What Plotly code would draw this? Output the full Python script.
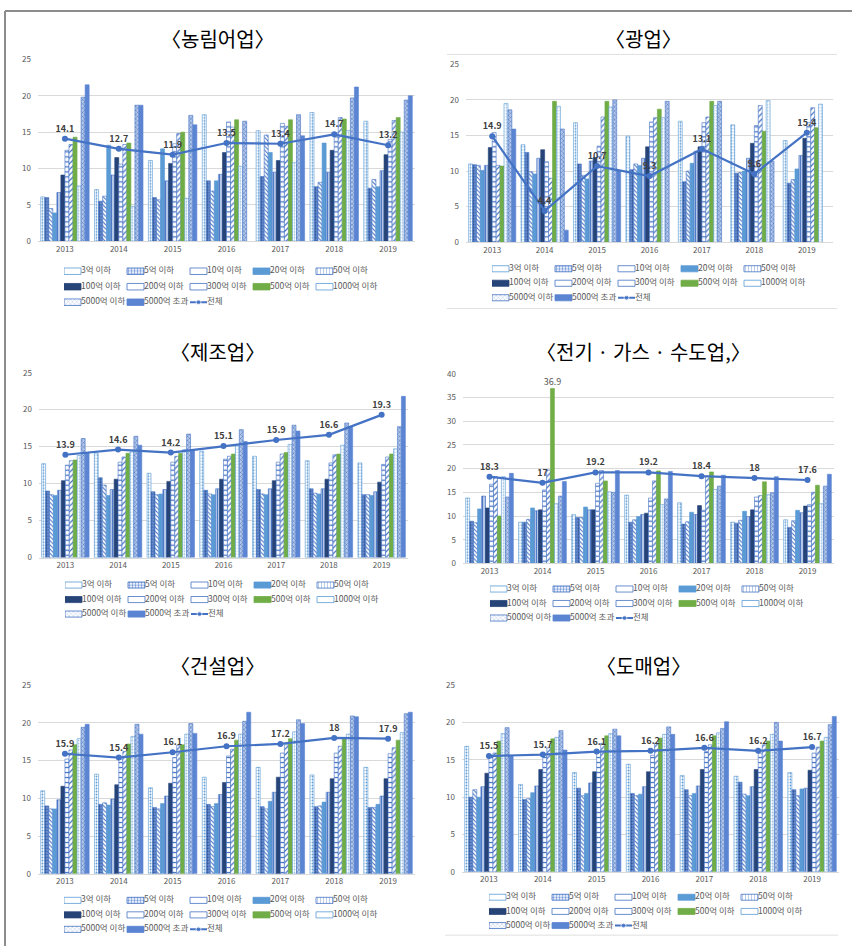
import plotly.graph_objects as go

W, H = 852, 951
FONT = "Noto Sans CJK KR"

years = ["2013", "2014", "2015", "2016", "2017", "2018", "2019"]
series_names = ["3억 이하", "5억 이하", "10억 이하", "20억 이하", "50억 이하", "100억 이하",
                "200억 이하", "300억 이하", "500억 이하", "1000억 이하", "5000억 이하", "5000억 초과"]
total_name = "전체"

# ---- data: one row per year (12 size classes), plus the overall line ----
agri_rows = [
    [6.1, 6.0, 4.5, 3.9, 6.7, 9.1, 12.5, 13.3, 14.3, 7.6, 19.8, 21.5],
    [7.1, 5.5, 6.2, 13.2, 9.1, 11.5, 10.6, 13.3, 13.5, 4.8, 18.7, 18.7],
    [11.1, 6.0, 5.7, 12.7, 8.3, 10.7, 13.4, 14.8, 15.0, 5.9, 17.3, 16.0],
    [17.4, 8.3, 6.9, 8.3, 9.2, 12.2, 16.4, 15.7, 16.7, 10.3, 16.5, None],
    [15.2, 8.9, 14.6, 12.2, 9.5, 11.1, 16.2, 15.8, 16.7, 10.8, 17.4, 14.5],
    [17.7, 7.5, 8.1, 13.5, 9.5, 12.5, 14.9, 17.0, 16.8, 15.2, 19.7, 21.2],
    [16.5, 7.3, 8.5, 7.5, 9.7, 11.9, 14.0, 16.6, 17.0, 15.0, 19.4, 20.0],
]
agri_total = [14.1, 12.7, 11.9, 13.5, 13.4, 14.7, 13.2]

mining_rows = [
    [11.0, 10.9, 10.8, 10.1, 10.8, 13.3, 15.4, 10.8, 10.7, 19.5, 18.6, 15.9],
    [13.7, 12.6, 9.9, 9.6, 11.8, 13.0, 11.3, 9.0, 19.8, 19.1, 15.9, 1.7],
    [16.8, 11.0, 9.4, 8.9, 11.4, 11.9, 13.5, 17.6, 19.8, 19.0, 20.0, 10.0],
    [14.9, 10.2, 11.0, 10.8, 11.8, 13.4, 16.9, 17.5, 18.7, 17.5, 19.8, None],
    [17.0, 8.5, 10.0, 11.1, 12.8, 13.4, 16.8, 17.6, 19.8, 19.2, 19.8, None],
    [16.5, 9.7, 9.8, 10.0, 11.8, 13.9, 16.4, 19.2, 15.6, 19.9, 11.4, None],
    [14.3, 8.3, 8.8, 10.3, 12.2, 14.6, 16.8, 18.9, 16.1, 19.4, None, None],
]
mining_total = [14.9, 4.4, 10.7, 9.3, 13.1, 9.6, 15.4]

manuf_rows = [
    [12.7, 9.0, 8.5, 8.4, 9.1, 10.4, 12.5, 13.1, 13.2, 13.8, 16.1, 14.2],
    [14.1, 10.8, 9.8, 8.4, 9.2, 10.6, 12.9, 13.6, 14.1, 14.3, 16.4, 15.2],
    [11.4, 8.9, 8.5, 8.6, 9.2, 10.3, 12.9, 13.7, 14.1, 14.6, 16.7, 14.6],
    [14.4, 9.1, 8.6, 8.5, 9.3, 10.6, 13.3, 13.7, 14.0, 15.1, 17.3, 15.7],
    [13.7, 9.2, 8.6, 8.5, 9.3, 10.4, 12.9, 14.0, 14.2, 15.3, 17.9, 17.1],
    [13.1, 9.3, 8.7, 8.6, 9.3, 10.6, 12.8, 13.9, 14.0, 15.2, 18.2, 17.7],
    [12.8, 8.5, 8.5, 8.4, 8.9, 10.2, 12.6, 13.6, 14.0, 14.7, 17.7, 21.8],
]
manuf_total = [13.9, 14.6, 14.2, 15.1, 15.9, 16.6, 19.3]

util_rows = [
    [13.8, 8.9, 8.6, 11.5, 14.2, 11.7, 16.7, 18.3, 10.0, 18.3, 14.0, 19.0],
    [8.7, 8.7, 9.3, 11.7, 11.1, 11.3, 15.5, 19.7, 36.9, 12.6, 14.2, 17.3],
    [10.3, 9.7, 9.7, 11.9, 11.3, 11.3, 16.9, 19.6, 17.4, 15.1, 15.0, 19.6],
    [14.4, 8.7, 9.2, 9.9, 10.3, 10.6, 13.8, 17.4, 19.5, 12.4, 13.6, 19.4],
    [12.8, 8.3, 8.8, 10.8, 10.3, 12.2, 11.2, 18.4, 19.3, 15.6, 16.3, 18.6],
    [8.7, 8.5, 9.1, 11.0, 9.9, 11.3, 14.0, 14.3, 17.2, 14.5, 14.9, 18.3],
    [9.2, 7.6, 9.0, 11.2, 10.7, 12.1, 12.4, 15.0, 16.5, 12.6, 16.3, 18.8],
]
util_total = [18.3, 17, 19.2, 19.2, 18.4, 18, 17.6]
util_labelled_bar = (8, 1)  # (series, year) carrying a data label

constr_rows = [
    [11.0, 9.0, 8.6, 8.6, 9.8, 11.6, 15.2, 16.4, 17.1, 17.9, 19.4, 19.8],
    [13.2, 9.2, 9.4, 9.1, 9.9, 11.8, 15.2, 16.2, 17.2, 18.2, 19.8, 18.5],
    [11.4, 8.8, 8.6, 9.3, 10.3, 12.0, 15.4, 17.0, 17.1, 18.5, 19.9, 18.6],
    [12.8, 9.2, 8.9, 9.3, 10.5, 12.1, 15.6, 16.5, 17.7, 18.5, 20.2, 21.4],
    [14.1, 8.9, 8.6, 9.6, 10.8, 12.8, 16.0, 17.1, 17.9, 18.8, 20.4, 19.9],
    [13.1, 8.9, 9.0, 9.5, 10.8, 12.6, 16.0, 16.9, 18.0, 18.5, 20.9, 20.8],
    [14.1, 8.8, 8.8, 9.2, 10.3, 12.6, 15.9, 16.7, 17.7, 18.7, 21.2, 21.4],
]
constr_total = [15.9, 15.4, 16.1, 16.9, 17.2, 18, 17.9]

whole_rows = [
    [16.8, 10.0, 11.0, 10.0, 11.4, 13.2, 15.6, 15.9, 17.5, 18.5, 19.3, 15.5],
    [11.7, 9.7, 9.8, 10.6, 11.5, 13.7, 15.7, 16.6, 17.8, 18.0, 18.9, 16.3],
    [13.3, 11.2, 10.2, 10.5, 11.9, 13.4, 16.1, 17.2, 18.2, 18.5, 19.1, 18.2],
    [14.4, 10.5, 10.2, 10.4, 11.4, 13.4, 15.6, 17.2, 17.9, 18.4, 19.4, 18.4],
    [12.9, 11.0, 10.2, 10.5, 11.5, 13.7, 16.1, 17.0, 18.2, 18.6, 19.2, 20.1],
    [12.8, 12.0, 10.4, 10.2, 11.4, 13.7, 15.9, 17.0, 17.5, 18.4, 20.0, 17.5],
    [13.3, 11.0, 10.2, 11.1, 11.2, 13.6, 15.9, 16.7, 17.5, 18.0, 19.7, 20.8],
]
whole_total = [15.5, 15.7, 16.1, 16.2, 16.6, 16.2, 16.7]

# ---- styles of the 12 size classes ----
styles = [
    dict(shape=".", fg="#5B9BD5", bg="#FFFFFF", size=3, sol=0.3, line="#5B9BD5"),
    dict(shape=".", fg="#2F5597", bg="#6F95D8", size=3, sol=0.45, line="#4472C4"),
    dict(shape="\\", fg="#4472C4", bg="#FFFFFF", size=3, sol=0.35, line="#4472C4"),
    dict(shape="", fg="#5B9BD5", bg="#5B9BD5", size=3, sol=0.3, line="#5B9BD5"),
    dict(shape="|", fg="#4472C4", bg="#B4C7E7", size=3, sol=0.3, line="#4472C4"),
    dict(shape="", fg="#264478", bg="#264478", size=3, sol=0.3, line="#264478"),
    dict(shape="-", fg="#4472C4", bg="#FFFFFF", size=5, sol=0.25, line="#4472C4"),
    dict(shape="/", fg="#4472C4", bg="#FFFFFF", size=4, sol=0.3, line="#4472C4"),
    dict(shape="", fg="#70AD47", bg="#70AD47", size=3, sol=0.3, line="#70AD47"),
    dict(shape=".", fg="#9DC3E6", bg="#FFFFFF", size=3, sol=0.3, line="#5B9BD5"),
    dict(shape="x", fg="#4472C4", bg="#B4C7E7", size=3, sol=0.3, line="#4472C4"),
    dict(shape="", fg="#5B84D2", bg="#5B84D2", size=3, sol=0.3, line="#5B84D2"),
]
LINE_COLOR = "#4472C4"

# ---- panel geometry (pixels) ----
panels = [
    dict(title="〈농림어업〉", rows=agri_rows, total=agri_total, x0=38, x1=415, y0=54, y1=238, ymax=25,
         tx=218, ty=33, lx=64, ly=[268, 284, 300]),
    dict(title="〈광업〉", rows=mining_rows, total=mining_total, x0=466, x1=833, y0=59, y1=239, ymax=25,
         tx=643, ty=33, lx=492, ly=[266, 281, 295]),
    dict(title="〈제조업〉", rows=manuf_rows, total=manuf_total, x0=39, x1=408, y0=371, y1=558, ymax=25,
         tx=218, ty=350, lx=65, ly=[586, 601, 615]),
    dict(title="〈전기 · 가스 · 수도업,〉", rows=util_rows, total=util_total, x0=463, x1=834, y0=372, y1=564,
         ymax=40, tx=643, ty=350, lx=490, ly=[590, 604, 619], label=util_labelled_bar),
    dict(title="〈건설업〉", rows=constr_rows, total=constr_total, x0=38, x1=415, y0=687, y1=878, ymax=25,
         tx=218, ty=667, lx=64, ly=[905, 919, 934]),
    dict(title="〈도매업〉", rows=whole_rows, total=whole_total, x0=462, x1=839, y0=687, y1=876, ymax=25,
         tx=643, ty=667, lx=489, ly=[902, 916, 930]),
]


def px(x):
    return x / W


def py(y):
    return 1 - y / H


def suffix(n):
    return "" if n == 1 else str(n)


fig = go.Figure()
layout = dict(
    width=W, height=H, margin=dict(l=0, r=0, t=0, b=0),
    paper_bgcolor="white", plot_bgcolor="white",
    barmode="group", bargap=0.1, bargroupgap=0,
    showlegend=False, font=dict(family=FONT, color="#595959"),
)
annotations = []
shapes = []

COL_W = 63
SW_W = 17

for k, p in enumerate(panels, start=1):
    s = suffix(k)
    # main axes
    layout["xaxis" + s] = dict(
        domain=[px(p["x0"]), px(p["x1"])], anchor="y" + s, type="category",
        showgrid=False, showline=True, linecolor="#D9D9D9", linewidth=1, ticks="",
        tickfont=dict(size=8, color="#595959", family=FONT), fixedrange=True,
    )
    layout["yaxis" + s] = dict(
        domain=[py(p["y1"]), py(p["y0"])], anchor="x" + s, range=[0, p["ymax"]], dtick=5,
        showgrid=True, gridcolor="#D9D9D9", gridwidth=1, zeroline=False, showline=False,
        ticks="", ticklabelstandoff=6, tickfont=dict(size=8, color="#595959", family=FONT),
        fixedrange=True,
    )
    for i, name in enumerate(series_names):
        st = styles[i]
        vals = [row[i] for row in p["rows"]]
        texts = None
        if "label" in p and p["label"][0] == i:
            texts = ["" if j != p["label"][1] else f"{vals[j]:g}" for j in range(len(vals))]
        fig.add_trace(go.Bar(
            x=years, y=vals, name=name, xaxis="x" + s, yaxis="y" + s,
            marker=dict(
                color=st["bg"], line=dict(color=st["line"], width=0.6),
                pattern=dict(shape=st["shape"], fgcolor=st["fg"], bgcolor=st["bg"],
                             size=st["size"], solidity=st["sol"], fillmode="replace"),
            ),
            text=texts, textposition="outside", constraintext="none", cliponaxis=False,
            textfont=dict(size=9, color="#595959", family=FONT),
        ))
    fig.add_trace(go.Scatter(
        x=years, y=p["total"], name=total_name, xaxis="x" + s, yaxis="y" + s,
        mode="lines+markers+text", line=dict(color=LINE_COLOR, width=2.2),
        marker=dict(color=LINE_COLOR, size=6),
        text=[f"{v:g}" for v in p["total"]], textposition="top center",
        textfont=dict(size=9, color="#404040", family=FONT, weight="bold"), cliponaxis=False,
    ))

    # title
    annotations.append(dict(
        text=p["title"], xref="paper", yref="paper", x=px(p["tx"]), y=py(p["ty"]),
        xanchor="center", yanchor="middle", showarrow=False,
        font=dict(size=20, color="#000000", family=FONT),
    ))

    # hand-laid legend on its own hidden axes
    L = suffix(k + 6)
    ly = p["ly"]
    layout["xaxis" + L] = dict(
        domain=[px(p["lx"]), px(p["lx"] + 5 * COL_W)], anchor="y" + L, range=[0, 5 * COL_W],
        visible=False, fixedrange=True,
    )
    layout["yaxis" + L] = dict(
        domain=[py(ly[2] + 7.5), py(ly[0] - 7.5)], anchor="x" + L, range=[2.5, -0.5],
        visible=False, fixedrange=True,
    )
    rows_idx = [i // 5 for i in range(len(series_names))]
    cols_idx = [i % 5 for i in range(len(series_names))]
    fig.add_trace(go.Bar(
        orientation="h", y=rows_idx, x=[SW_W] * len(series_names),
        base=[c * COL_W for c in cols_idx], width=0.42, xaxis="x" + L, yaxis="y" + L,
        marker=dict(
            color=[st["bg"] for st in styles],
            line=dict(color=[st["line"] for st in styles], width=0.8),
            pattern=dict(shape=[st["shape"] for st in styles], fgcolor=[st["fg"] for st in styles],
                         bgcolor=[st["bg"] for st in styles], size=[st["size"] for st in styles],
                         solidity=[st["sol"] for st in styles], fillmode="replace"),
        ),
        hoverinfo="skip",
    ))
    n_tot = len(series_names)
    r_tot, c_tot = n_tot // 5, n_tot % 5
    fig.add_trace(go.Scatter(
        x=[c_tot * COL_W, c_tot * COL_W + SW_W / 2, c_tot * COL_W + SW_W], y=[r_tot] * 3,
        xaxis="x" + L, yaxis="y" + L, mode="lines+markers",
        line=dict(color=LINE_COLOR, width=2), marker=dict(color=LINE_COLOR, size=[0, 5, 0]),
        hoverinfo="skip",
    ))
    all_names = series_names + [total_name]
    fig.add_trace(go.Scatter(
        x=[(i % 5) * COL_W + SW_W for i in range(len(all_names))],
        y=[i // 5 for i in range(len(all_names))],
        text=all_names, mode="text", textposition="middle right",
        textfont=dict(size=8.5, color="#595959", family=FONT),
        xaxis="x" + L, yaxis="y" + L, hoverinfo="skip", cliponaxis=False,
    ))

# page frame decorations
shapes.append(dict(type="line", xref="paper", yref="paper", x0=px(5), x1=1, y0=py(5), y1=py(5),
                   line=dict(color="#8C8C8C", width=2)))
shapes.append(dict(type="line", xref="paper", yref="paper", x0=px(5), x1=px(5), y0=py(5), y1=0,
                   line=dict(color="#8C8C8C", width=2)))
shapes.append(dict(type="line", xref="paper", yref="paper", x0=px(447), x1=px(837), y0=py(49), y1=py(49),
                   line=dict(color="#E0E0E0", width=1)))
shapes.append(dict(type="line", xref="paper", yref="paper", x0=px(447), x1=px(837), y0=py(306), y1=py(306),
                   line=dict(color="#E0E0E0", width=1)))
shapes.append(dict(type="line", xref="paper", yref="paper", x0=px(445), x1=px(838), y0=py(940), y1=py(940),
                   line=dict(color="#E0E0E0", width=1)))

layout["annotations"] = annotations
layout["shapes"] = shapes
fig.update_layout(**layout)
fig.write_html("out.html")
